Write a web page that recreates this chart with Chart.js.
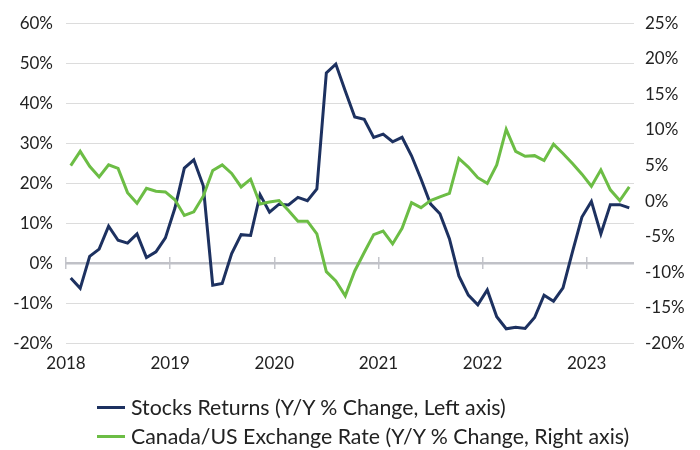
<!DOCTYPE html>
<html>
<head>
<meta charset="utf-8">
<script src="https://cdn.jsdelivr.net/npm/chart.js@4"></script>
<style>
    body { margin: 0; background: #fff; }
    #wrap { position: relative; width: 700px; height: 450px; }
    #legenda { position: absolute; left: 97px; top: 393px; font-family: Lato, sans-serif; font-size: 21.3px; color: #222; }
    .item { display: flex; align-items: center; height: 29px; line-height: 29px; white-space: nowrap; }
    .traco { width: 28px; height: 3px; margin-right: 6px; }
</style>
</head>
<body>
<div id="wrap">
    <canvas id="grafico"></canvas>
    <div id="legenda"></div>
</div>
<script>
// anos no eixo x (um rótulo a cada 11 pontos)
const anos = ['2018', '2019', '2020', '2021', '2022', '2023'];
const inicioAno = [-0.5, 10.5, 21.5, 32.5, 43.5, 54.5];

// Y/Y % change, eixo esquerdo
const retornoAcoes = [
    -3.6, -6.2, 1.8, 3.6, 9.3, 5.8, 5.1, 7.4, 1.5, 2.9,
    6.4, 13.8, 23.8, 25.9, 19.4, -5.4, -5.0, 2.5, 7.2, 7.0,
    17.2, 12.8, 14.8, 14.6, 16.5, 15.7, 18.6, 47.6, 49.8, 43.1,
    36.6, 36.0, 31.5, 32.3, 30.4, 31.5, 26.9, 21.1, 14.9, 12.4,
    6.2, -3.1, -7.9, -10.3, -6.6, -13.3, -16.3, -15.9, -16.2, -13.5,
    -7.9, -9.4, -6.1, 2.9, 11.6, 15.5, 7.4, 14.7, 14.7, 13.9
];

// Y/Y % change, eixo direito
const cambioCadUsd = [
    5.0, 7.0, 4.9, 3.4, 5.1, 4.6, 1.2, -0.3, 1.8, 1.4,
    1.3, 0.2, -2.0, -1.5, 0.7, 4.3, 5.1, 3.9, 2.0, 3.1,
    -0.4, -0.1, 0.1, -1.3, -2.8, -2.8, -4.6, -9.9, -11.2, -13.3,
    -9.8, -7.2, -4.7, -4.2, -6.0, -3.8, -0.2, -0.9, 0.1, 0.6,
    1.1, 6.0, 4.8, 3.3, 2.5, 5.1, 10.1, 7.0, 6.3, 6.4,
    5.7, 8.0, 6.7, 5.3, 3.8, 2.1, 4.4, 1.6, 0.1, 2.0
];

const series = [
    { nome: 'Stocks Returns (Y/Y % Change, Left axis)', dados: retornoAcoes, cor: '#1d3160', eixo: 'y', ordem: 1 },
    { nome: 'Canada/US Exchange Rate (Y/Y % Change, Right axis)', dados: cambioCadUsd, cor: '#6cbd45', eixo: 'y1', ordem: 0 }
];

function marcasAnos(scale) {
    scale.ticks = inicioAno.map(v => ({ value: v }));
}

function desenhar() {
    Chart.defaults.font.family = 'Lato, sans-serif';
    Chart.defaults.font.size = 17;
    Chart.defaults.color = '#222';

    new Chart(document.getElementById('grafico'), {
        type: 'line',
        data: {
            datasets: series.map(s => ({
                label: s.nome,
                data: s.dados.map((v, i) => ({ x: i, y: v })),
                borderColor: s.cor,
                backgroundColor: s.cor,
                borderWidth: 3,
                pointRadius: 0,
                tension: 0,
                yAxisID: s.eixo,
                order: s.ordem
            }))
        },
        options: {
            responsive: true,
            maintainAspectRatio: false,
            animation: false,
            layout: { padding: { top: 19, bottom: 66, left: 0, right: 0 } },
            plugins: { legend: { display: false }, tooltip: { enabled: false } },
            scales: {
                x: {
                    type: 'linear',
                    min: -0.5,
                    max: 59.5,
                    afterBuildTicks: marcasAnos,
                    grid: { display: false, drawTicks: false },
                    border: { display: false },
                    ticks: { padding: 10, maxRotation: 0, autoSkip: false, callback: (v, i) => anos[i] }
                },
                x2: {
                    type: 'linear',
                    min: -0.5,
                    max: 59.5,
                    position: { y: 1.5 },
                    afterBuildTicks: marcasAnos,
                    grid: { drawOnChartArea: false, drawTicks: true, tickLength: 12, color: '#c4c5cb', lineWidth: 1.5 },
                    border: { display: false },
                    ticks: { display: false }
                },
                y: {
                    position: 'left',
                    min: -20,
                    max: 60,
                    afterFit: s => { s.width = 66; },
                    ticks: { stepSize: 10, padding: 13, callback: v => v + '%' },
                    grid: {
                        drawTicks: false,
                        color: c => c.tick.value === 0 ? '#c0c1c7' : '#dcdcdc',
                        lineWidth: c => c.tick.value === 0 ? 2.5 : 1
                    },
                    border: { display: false }
                },
                y1: {
                    position: 'right',
                    min: -20,
                    max: 25,
                    afterFit: s => { s.width = 66; },
                    ticks: { stepSize: 5, padding: 11, callback: v => v + '%' },
                    grid: { drawOnChartArea: false, drawTicks: false },
                    border: { display: false }
                }
            }
        }
    });

    document.getElementById('legenda').innerHTML = series.map(s => `
        <div class="item"><span class="traco" style="background:${s.cor}"></span>${s.nome}</div>`).join('');
}

document.fonts.load('17px Lato').then(desenhar, desenhar);
</script>
</body>
</html>
